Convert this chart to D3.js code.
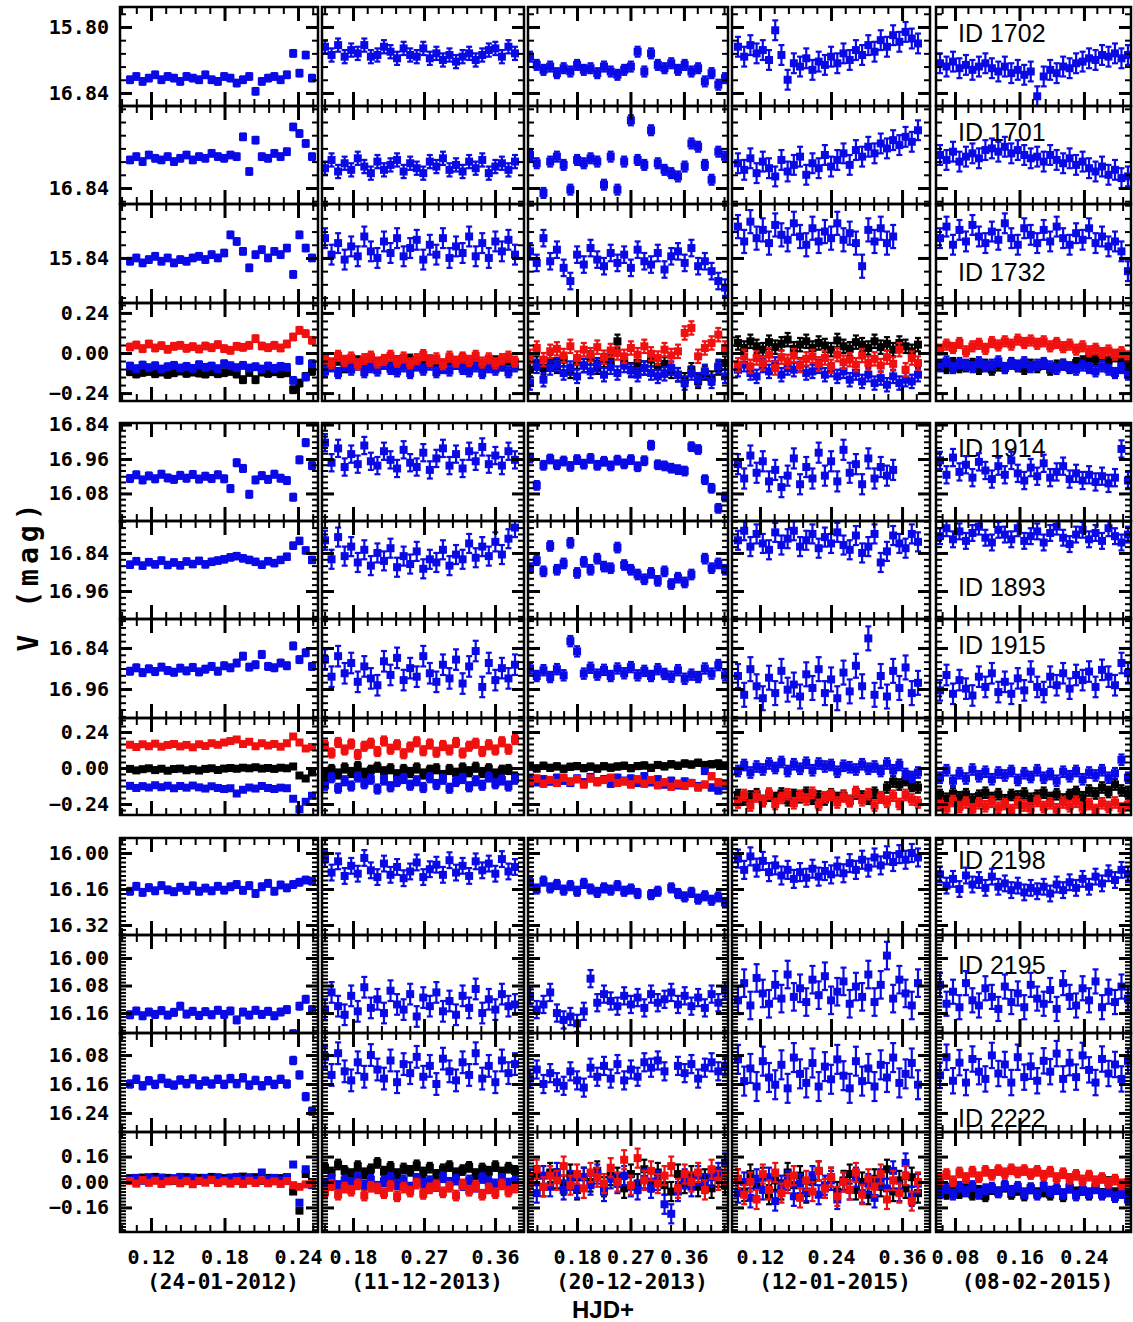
<!DOCTYPE html>
<html>
<head>
<meta charset="utf-8">
<script src="https://cdn.jsdelivr.net/npm/d3@7"></script>
<style>
  body { margin: 0; background: #fff; }
  .tick text { font-family: "DejaVu Sans Mono", monospace; font-weight: bold; font-size: 20px; fill: #000; }
</style>
</head>
<body>
<svg id="chart" width="1133" height="1322"></svg>
<script>
// ---------- data ----------
const N = 30; // readings per night kept for each curve
const dates = ["(24-01-2012)", "(11-12-2013)", "(20-12-2013)", "(12-01-2015)", "(08-02-2015)"];
const colT0 = [0.1029, 0.1445, 0.1009, 0.0828, 0.0614];
const colT1 = [0.2514, 0.3853, 0.4292, 0.3869, 0.2946];
const xDomains = [[0.0947, 0.2563], [0.1407, 0.3967], [0.0975, 0.4342], [0.0727, 0.4072], [0.0564, 0.2984]];
const xLabelTicks = [[0.12, 0.18, 0.24], [0.18, 0.27, 0.36], [0.18, 0.27, 0.36], [0.12, 0.24, 0.36], [0.08, 0.16, 0.24]];
const xMinorStep = [0.012, 0.018, 0.0225, 0.024, 0.016];

const stars = [[1702, 1701, 1732], [1914, 1893, 1915], [2198, 2195, 2222]];

// y ranges per row (value at top edge, value at bottom edge)
const yDomG1 = [[15.7879, 15.8479], [15.7903, 15.8497], [15.8073, 15.8673], [0.2994, -0.2874]];
const yDomG2 = [[15.8346, 16.176], [15.7392, 16.0483], [15.7553, 16.0448], [0.3333, -0.3133]];
const yDomG3 = [[15.9333, 16.3644], [15.9331, 16.218], [16.0191, 16.2926], [0.3145, -0.3145]];
const yTicksG1 = [[15.80, 15.84], [15.84], [15.84], [0.24, 0, -0.24]];
const yTicksG2 = [[15.84, 15.96, 16.08], [15.84, 15.96], [15.84, 15.96], [0.24, 0, -0.24]];
const yTicksG3 = [[16.00, 16.16, 16.32], [16.00, 16.08, 16.16], [16.08, 16.16, 16.24], [0.16, 0, -0.16]];
const yTextG1 = [["15.80", "16.84"], ["16.84"], ["15.84"], ["0.24", "0.00", "\u22120.24"]];
const yTextG2 = [["16.84", "16.96", "16.08"], ["16.84", "16.96"], ["16.84", "16.96"], ["0.24", "0.00", "\u22120.24"]];
const yTextG3 = [["16.00", "16.16", "16.32"], ["16.00", "16.08", "16.16"], ["16.08", "16.16", "16.24"], ["0.16", "0.00", "\u22120.16"]];
const yMinorG1 = [0.008, 0.008, 0.008, 0.048];
const yMinorG2 = [0.02, 0.02, 0.02, 0.04];
const yMinorG3 = [0.02, 0.01, 0.01, 0.02];

// light curves: base (mag) per night, error (mmag), offsets from base (mmag)
const base1702 = [15.831, 15.815, 15.825, 15.820, 15.822];
const err1702 = [2, 4, 3, 6, 6];
const off1702 = [
  [1,-1,2,0,-2,1,-1,0,2,-1,0,1,-2,1,2,-1,0,3,1,-1,8,2,0,-1,1,-2,-15,-3,-14,0],
  [-3,2,-4,3,-1,1,-4,3,2,-3,0,4,-2,2,3,-2,4,1,5,2,6,3,1,5,2,-1,-2,3,-3,1],
  [-7,-2,1,-1,3,0,2,-2,1,0,3,-1,2,4,1,-1,-10,2,-9,-2,0,-3,1,-2,2,0,8,3,10,6],
  [-8,-2,-9,-4,-6,0,-18,-3,12,2,4,-1,6,1,3,-2,2,-4,0,-6,-3,-9,-5,-12,-8,-15,-11,-17,-13,-10],
  [0,2,-1,3,1,4,2,0,3,5,2,6,4,7,5,20,8,4,6,2,3,0,-1,-3,-2,-5,-4,-6,-3,-5]
];
const base1701 = [15.821, 15.826, 15.823, 15.825, 15.820];
const err1701 = [2, 4, 3, 6, 6];
const off1701 = [
  [2,0,3,-1,1,2,0,3,1,-1,2,0,1,-2,0,1,-1,0,-12,9,-10,0,1,-2,0,-3,-18,-14,-8,0],
  [2,-3,4,-1,3,-4,1,5,-2,3,0,-3,4,-1,2,5,-2,1,-4,3,0,4,-2,2,-3,5,1,-1,3,-2],
  [-3,2,20,1,-2,3,18,0,2,-1,1,15,-2,18,1,-24,0,3,-18,2,6,8,10,4,-10,-8,3,12,-5,-2],
  [0,4,-3,6,-1,3,8,-2,5,1,-4,7,0,3,-5,2,-2,-6,1,-8,-4,-10,-6,-12,-9,-14,-11,-16,-13,-20],
  [0,3,-2,4,1,-1,2,-3,-4,-2,-5,-1,-3,0,2,1,4,0,3,5,2,6,4,8,10,7,12,9,14,13]
];
const base1732 = [15.840, 15.834, 15.840, 15.825, 15.826];
const err1732 = [2, 6, 5, 7, 6];
const off1732 = [
  [2,0,3,1,-1,2,0,3,1,2,0,-1,1,-2,0,-3,-14,-10,-4,6,-2,-5,0,-4,-2,-6,10,-14,-6,0],
  [-6,4,-3,7,-1,5,-7,2,6,-4,3,-6,5,0,-5,7,-2,4,-6,6,-1,3,-7,5,-3,6,-4,2,-5,4],
  [-4,3,-12,2,-5,6,14,-2,4,-6,1,5,-3,3,-2,6,-5,2,4,-3,7,-1,-4,3,-6,5,2,8,14,18],
  [-4,5,-7,3,-2,6,-5,1,4,-6,2,7,-3,5,-1,3,-6,4,0,6,20,-2,5,-3,6,2,null,null,null,null],
  [2,-5,6,-3,4,-6,1,5,-2,3,-7,2,6,-4,0,5,-3,4,-5,2,6,-1,3,-4,5,1,7,4,10,22]
];
const base1914 = [16.023, 15.953, 15.972, 15.998, 15.995];
const err1914 = [12, 30, 15, 35, 30];
const off1914 = [
  [5,-8,10,-4,6,-10,3,8,-6,4,-9,7,-3,5,-8,6,40,-50,-30,60,10,-5,8,-10,4,12,70,-60,-120,-40],
  [-50,20,-30,35,-10,25,-40,15,30,-20,10,40,-25,20,35,-15,45,5,-30,30,-10,40,-20,15,-35,25,-5,30,-20,10],
  [-15,80,10,-12,8,-5,14,-10,6,-14,10,-4,12,-8,5,-10,15,-6,-60,8,12,20,25,30,-55,-45,60,90,160,120],
  [-20,30,-50,10,-30,40,0,60,20,-40,50,-10,30,-60,20,-30,40,-70,10,-20,50,-40,30,-10,20,0,null,null,null,null],
  [-30,20,-40,10,-15,30,-25,5,35,-10,20,-30,15,40,-5,25,-20,30,10,-10,35,15,40,20,45,25,50,30,-70,40]
];
const base1893 = [15.872, 15.840, 15.878, 15.790, 15.777];
const err1893 = [10, 30, 15, 30, 25];
const off1893 = [
  [5,-6,8,-3,4,-8,6,-2,7,-5,3,-7,4,-4,-8,-12,-18,-22,-15,-10,-4,5,-6,0,-10,-20,-55,-70,-40,-10],
  [-40,20,-50,10,-20,30,-10,40,0,25,-15,45,10,35,-5,50,20,30,-10,40,5,20,-30,15,-20,10,-35,5,-45,-80],
  [10,-15,20,-60,15,-5,-70,25,-10,15,-20,5,10,-55,0,15,30,45,25,50,20,60,40,55,30,null,-20,10,-5,15],
  [10,-20,30,-10,20,40,-15,25,5,-20,30,10,-10,35,0,20,-15,25,40,-5,50,30,-10,80,45,-5,20,35,-10,15],
  [10,-15,20,-5,25,0,-20,15,30,-10,5,20,-15,25,10,-5,30,0,-20,15,35,5,-10,20,0,25,-15,10,30,5]
];
const base1915 = [15.904, 15.904, 15.910, 15.942, 15.944];
const err1915 = [10, 30, 15, 35, 30];
const off1915 = [
  [4,-6,8,-3,5,-8,2,7,-5,3,-7,6,-2,-10,4,-12,-6,-20,-40,-8,-15,-45,-10,-6,-20,-12,-70,-30,-50,-10],
  [-30,20,-40,10,-20,35,-10,25,45,-25,15,-35,30,-5,20,-40,10,35,-15,25,-30,40,-10,-55,50,-20,30,-5,25,-15],
  [-10,12,-5,15,-8,10,-90,-60,5,-12,8,-6,12,-10,4,-14,10,-3,12,-8,6,14,-5,20,8,15,-10,5,-20,10],
  [-20,35,-40,10,45,-15,30,-35,20,5,40,-25,15,-40,30,-10,45,-30,25,-50,10,-130,35,-20,40,-35,15,-45,30,0],
  [20,-25,30,-10,15,35,-20,10,-30,25,-5,30,-15,20,-35,10,25,-20,5,-30,15,-25,-10,-35,10,-40,-20,5,-60,-30]
];
const base2198 = [16.160, 16.067, 16.150, 16.055, 16.125];
const err2198 = [15, 35, 20, 40, 35];
const off2198 = [
  [10,-12,15,-6,8,-15,4,12,-8,6,-14,10,-4,8,-12,5,-10,-20,6,-15,20,-10,-25,10,-18,-5,-20,-30,-40,-35],
  [-40,20,-30,35,-10,25,-45,10,40,-20,30,-5,45,15,-25,40,5,-15,30,-35,20,-10,35,-30,10,-20,25,-40,15,-5],
  [-20,10,-25,5,-10,15,-5,20,-15,10,25,5,15,-5,20,10,30,null,35,20,null,5,30,45,25,55,40,60,45,70],
  [-30,20,-40,10,-20,30,0,45,20,60,30,55,15,50,25,40,5,35,-10,20,-25,10,-35,0,-45,-15,-50,-25,-55,-35],
  [-30,20,-10,35,-25,15,-5,30,-20,25,10,40,20,50,30,45,25,55,15,40,5,30,-10,25,-20,10,-35,-5,-50,-30]
];
const base2195 = [16.160, 16.130, 16.120, 16.093, 16.108];
const err2195 = [10, 30, 25, 40, 35];
const off2195 = [
  [5,-6,8,-3,4,-7,6,-2,-20,3,-5,7,-4,5,-8,4,-6,20,-3,6,-8,4,-5,8,-3,-10,60,-20,-40,-10],
  [20,-30,10,35,-20,25,-45,15,-10,30,-35,5,20,-25,40,-15,10,-30,25,-5,35,-20,15,-40,30,-10,20,-25,10,5],
  [-10,30,15,-20,40,60,50,70,35,-60,10,-15,5,20,-10,15,-5,25,-15,10,0,-20,15,-10,20,-5,25,-15,10,-25],
  [30,-20,45,-35,10,40,-15,25,-45,20,-5,35,-30,15,-40,30,5,-25,40,-10,20,-45,35,-15,-100,25,-30,10,45,-20],
  [-30,25,-10,35,-35,15,30,-20,5,40,-25,20,-5,35,-30,10,25,-15,40,-35,5,30,-20,15,-40,35,-10,20,-25,10]
];
const base2222 = [16.155, 16.115, 16.135, 16.127, 16.116];
const err2222 = [10, 30, 25, 40, 35];
const off2222 = [
  [5,-8,10,-4,6,-10,3,8,-6,4,-9,7,-3,5,-8,6,-10,4,-12,8,-5,10,-4,6,-8,5,-60,-20,40,80],
  [-30,20,-40,10,35,-15,25,-35,5,30,-20,40,-10,15,-30,25,-5,45,-25,10,35,-15,20,-40,30,-5,40,-20,15,-10],
  [10,-15,25,-5,20,30,-10,15,35,-20,5,-25,10,-30,15,-15,5,-35,-20,-40,-10,null,-25,-5,-30,10,-20,-35,-10,-25],
  [-35,25,-10,40,-30,15,35,-20,45,-40,5,30,-25,40,-15,20,-35,10,45,-30,25,-10,40,-20,15,-40,30,5,-25,35],
  [20,-30,35,-15,40,-25,10,30,-35,15,-10,40,-30,25,-5,35,-20,10,-40,30,-15,25,-35,5,40,-25,15,-10,30,-20]
];

// differential curves (mag) : base per night, offsets in mmag
const blackBase1 = [-0.12, -0.06, -0.07, 0.04, -0.08];
const black1 = [
  [8,-6,4,10,-4,6,-8,2,12,-2,6,0,-6,8,-4,2,10,-6,-40,4,-40,6,-2,8,-4,2,-100,-60,-20,10],
  [15,-10,20,-25,5,10,-15,25,-5,15,-20,10,0,20,-10,-25,15,5,-15,20,-5,25,-10,15,-20,0,10,-15,20,-5],
  [-30,10,-20,20,-10,30,-40,15,-5,40,-15,25,20,140,20,-30,10,-20,30,-15,5,-40,-60,-90,-30,-100,-50,-80,-20,10],
  [20,-10,30,0,-20,25,-5,15,40,-15,10,30,-10,20,5,-20,35,0,-15,25,10,-10,30,-5,15,-20,20,0,-30,10],
  [10,-10,20,-5,0,15,-15,10,-20,5,-10,20,0,-15,10,-5,15,-20,5,10,-10,20,30,50,40,70,30,60,20,10]
];
const blueBase1 = [-0.084, -0.09, -0.10, -0.08, -0.06];
const blue1 = [
  [6,-10,12,-4,8,-12,2,10,-6,4,-8,14,-2,6,-10,20,8,-4,10,-6,2,-12,6,-8,4,-2,-80,40,-60,20],
  [-20,10,-30,15,-10,20,-25,5,-15,25,-5,-20,10,-30,15,-10,20,-25,0,-15,25,-5,-20,10,-30,5,-10,20,-25,10],
  [-80,20,-60,10,30,-20,10,-40,25,-10,30,-30,15,-20,25,-5,-30,10,-20,-40,-25,10,-30,-80,-20,-60,-10,-70,20,-40],
  [-20,10,-40,-60,5,-30,15,-50,-10,-20,10,-40,-30,0,-50,-20,-60,-30,-80,-40,-90,-50,-100,-70,-110,-60,-100,-80,-90,-50],
  [-20,10,-30,0,-10,-25,5,-20,-10,10,-30,-5,-15,5,-25,-10,0,-20,-35,-10,-25,-40,-15,-30,-50,-20,-40,-60,-30,-70]
];
const redBase1 = [0.036, -0.042, 0.0, -0.04, 0.03];
const red1 = [
  [0,12,-10,18,-6,8,-14,4,10,-8,2,-12,6,-4,14,-10,-20,4,-2,10,50,6,-4,10,-6,18,60,100,80,40],
  [10,-20,25,-5,15,-25,5,20,-15,0,25,-10,15,-20,5,30,-5,10,-25,20,-10,15,-5,25,-15,10,-20,5,20,-10],
  [-20,30,-40,10,25,-15,40,-30,20,-10,35,-25,15,0,-20,30,-10,40,-5,-30,20,-15,10,120,150,-20,30,60,110,30],
  [-30,20,-40,10,-20,30,-50,15,-10,25,-35,5,20,-25,10,-40,30,-15,0,-30,25,-20,5,-35,15,-25,60,-60,10,-20],
  [-10,20,0,30,-20,10,25,-5,35,15,40,20,50,30,45,25,40,10,30,5,20,-10,10,-20,-5,-30,-15,-40,-25,-50]
];
const diffErr1 = [20, 30, 40, 40, 30];

const blackBase2 = [-0.01, -0.02, 0.005, -0.19, -0.19];
const black2 = [
  [4,-6,2,8,-4,5,-8,3,6,-5,2,-7,4,8,-3,6,10,5,12,8,15,6,10,4,12,8,20,-40,-60,-20],
  [-30,10,-20,20,-10,30,-15,5,25,-5,15,-25,10,-10,20,-20,5,15,-30,10,-15,20,-5,25,-10,15,-20,5,10,-40],
  [5,-8,10,-4,6,-10,3,8,-6,4,-9,7,-3,5,10,-6,8,12,-4,15,6,20,10,25,18,30,15,20,25,10],
  [10,-20,0,15,-30,5,-10,20,-25,10,-5,25,-15,0,-20,15,-10,5,-30,20,0,-15,25,-5,60,100,80,110,70,60],
  [10,-15,20,-5,15,-20,5,25,-10,15,-25,10,0,20,-15,5,25,-10,15,-20,10,30,-5,40,20,60,30,80,40,20]
];
const blueBase2 = [-0.125, -0.095, -0.08, 0.0, -0.045];
const blue2 = [
  [6,-8,4,-5,10,-3,7,-10,5,-6,8,-4,-12,3,-8,-15,-10,-45,-20,-5,-12,5,-8,-15,-6,-10,-80,-150,-100,-60],
  [-20,30,-40,10,-25,35,-10,20,-45,15,-30,5,25,-20,10,-35,30,-15,20,-40,5,25,-30,10,-20,35,-10,15,-25,20],
  [10,-15,5,-10,15,-5,-20,10,-15,20,-10,5,-25,15,-5,10,-20,25,-15,5,-30,-5,-35,-10,-20,-40,60,-50,-70,-40],
  [-20,20,-30,10,-10,30,0,40,-20,25,-5,35,-15,30,10,20,-25,15,5,-10,25,-5,10,-20,30,-15,20,-40,-60,-30],
  [-20,30,-40,10,-25,35,-10,20,-30,15,-5,25,-35,10,-15,30,-20,5,-40,20,-10,25,-30,15,-5,30,-20,10,100,-20]
];
const redBase2 = [0.15, 0.13, -0.085, -0.20, -0.25];
const red2 = [
  [5,-10,8,-5,12,-8,3,10,-6,4,-12,8,-3,15,5,20,30,40,10,25,-5,15,0,10,-8,15,60,20,-20,-10],
  [20,-30,40,-10,30,-40,15,35,-20,50,-5,25,-35,10,45,-15,30,-25,20,-10,40,-30,15,35,-20,25,-10,45,-5,60],
  [-10,15,-20,5,-15,20,-5,10,-25,15,-10,5,20,-15,-5,-25,10,-20,5,-30,-10,-40,-20,-35,-15,-45,-25,30,-10,-20],
  [-30,20,-50,10,-20,30,-40,0,25,-35,15,-10,35,-45,5,20,-30,10,-20,40,-15,25,-50,5,-25,15,-40,20,-10,-30],
  [10,-20,30,-10,20,-25,15,-5,25,-15,10,-30,20,0,-20,30,-10,15,-25,20,-5,25,-15,10,-30,15,-10,20,-20,5]
];
const diffErr2 = [15, 30, 20, 35, 35];

const blackBase3 = [0.02, 0.07, 0.01, -0.01, -0.06];
const black3 = [
  [4,-10,8,-6,12,-4,6,-12,2,10,-8,6,-4,12,-10,4,8,-6,14,-2,10,-12,6,-8,4,10,-80,-200,30,-20],
  [20,-10,40,0,-20,30,-15,10,50,-5,25,-20,15,0,35,-10,20,-25,10,30,-15,5,25,-20,15,-5,30,-10,20,0],
  [-20,30,-40,50,10,-30,40,-60,20,-10,60,-40,30,20,-50,40,-20,70,-10,50,-30,-70,40,-20,30,-40,10,-50,20,-30],
  [30,-50,60,-20,40,-70,20,-40,70,-10,50,-60,10,80,-30,40,-50,20,60,-40,10,-70,30,-20,90,-50,20,-30,40,-60],
  [10,-15,20,-10,25,-20,5,-30,15,-5,30,-15,10,-25,20,-10,0,-20,15,-30,25,-5,10,-20,30,-15,60,-10,20,-25]
];
const blueBase3 = [0.02, 0.0, 0.0, -0.03, -0.05];
const blue3 = [
  [-8,6,-12,10,-4,8,-10,4,12,-6,8,-14,6,-2,10,-8,4,12,-6,10,-8,40,-4,6,-10,8,90,-150,60,-40],
  [-10,20,-25,10,-5,30,-20,15,-30,5,25,-15,10,-35,20,-10,5,-25,30,-5,15,-20,10,-30,25,0,-15,20,-10,5],
  [20,-70,40,-30,60,-50,10,-40,30,-20,50,-60,20,-10,40,-30,-50,20,-40,10,-140,-200,-60,20,-30,40,-10,30,60,120],
  [-40,30,-70,50,-20,60,-90,10,40,-60,20,-30,70,-50,10,40,-80,30,-20,60,-40,20,-70,50,-10,100,-30,150,-60,20],
  [-20,10,-30,20,-10,25,-25,5,15,-15,30,-5,20,-20,10,-30,25,-10,5,-25,15,-35,0,-20,10,-30,-10,-45,-20,-60]
];
const redBase3 = [0.0, -0.045, 0.02, -0.02, 0.035];
const red3 = [
  [6,-10,12,-5,8,-12,4,10,-8,5,-14,8,-4,12,-6,4,-10,6,-12,8,-6,10,-8,4,-12,6,-20,-30,-15,-10],
  [-20,25,-35,10,-10,30,-40,15,5,-25,20,-45,10,-15,35,-30,5,25,-20,15,-40,30,-10,20,-35,5,-25,30,-15,10],
  [-30,60,-50,20,-10,80,-40,30,-60,40,10,-30,70,-20,120,-40,130,-10,50,-30,20,80,-60,30,-20,40,-70,60,-10,20],
  [40,-60,20,-90,70,-30,80,-50,10,60,-80,30,-40,90,-20,50,-70,20,-30,80,-60,40,-10,70,-90,30,-50,60,-100,20],
  [-20,15,-30,25,-10,30,-5,35,10,40,20,45,25,40,15,35,5,30,-10,20,-15,10,-25,5,-30,-10,-40,-20,-50,-35]
];
const diffErr3 = [15, 30, 60, 60, 30];

// ---------- layout ----------
const colX = [[120, 318], [322, 524], [528, 728], [732, 930], [936, 1131]];
const groupY = [[7, 106, 204, 303, 401], [423, 521, 619, 718, 815], [838, 935, 1033, 1132, 1232]];
const idBaseline = [[35, 35, 77], [34, 75, 35], [31, 39, 94]];
const BLUE = "#0a0ae6", RED = "#f01010", BLACK = "#000";
const MARK = 8;

const curves = {
  1702: [base1702, err1702, off1702], 1701: [base1701, err1701, off1701], 1732: [base1732, err1732, off1732],
  1914: [base1914, err1914, off1914], 1893: [base1893, err1893, off1893], 1915: [base1915, err1915, off1915],
  2198: [base2198, err2198, off2198], 2195: [base2195, err2195, off2195], 2222: [base2222, err2222, off2222]
};
const diffs = [
  { black: [blackBase1, black1], blue: [blueBase1, blue1], red: [redBase1, red1], err: diffErr1 },
  { black: [blackBase2, black2], blue: [blueBase2, blue2], red: [redBase2, red2], err: diffErr2 },
  { black: [blackBase3, black3], blue: [blueBase3, blue3], red: [redBase3, red3], err: diffErr3 }
];
const yDoms = [yDomG1, yDomG2, yDomG3];
const yTicks = [yTicksG1, yTicksG2, yTicksG3];
const yTexts = [yTextG1, yTextG2, yTextG3];
const yMinors = [yMinorG1, yMinorG2, yMinorG3];

const svg = d3.select("#chart");
const defs = svg.append("defs");

function stepValues(domain, step) {
  const lo = Math.min(domain[0], domain[1]), hi = Math.max(domain[0], domain[1]);
  const k0 = Math.ceil(lo / step - 1e-6), k1 = Math.floor(hi / step + 1e-6);
  return d3.range(k0, k1 + 1).map(k => +(k * step).toFixed(6));
}

function drawSeries(g, x, y, times, base, off, err, color) {
  const pts = off.map((o, i) => ({ t: times[i], v: o == null ? null : base + o / 1000 }))
    .filter(d => d.v != null);
  const e = err / 1000;
  const h = MARK / 2;
  g.selectAll(null).data(pts).join("line")
    .attr("x1", d => x(d.t)).attr("x2", d => x(d.t))
    .attr("y1", d => y(d.v - e)).attr("y2", d => y(d.v + e))
    .attr("stroke", color).attr("stroke-width", 2.2);
  [-e, e].forEach(s => {
    g.selectAll(null).data(pts).join("line")
      .attr("x1", d => x(d.t) - h + 1).attr("x2", d => x(d.t) + h - 1)
      .attr("y1", d => y(d.v + s)).attr("y2", d => y(d.v + s))
      .attr("stroke", color).attr("stroke-width", 2.2);
  });
  g.selectAll(null).data(pts).join("rect")
    .attr("x", d => x(d.t) - h).attr("y", d => y(d.v) - h)
    .attr("width", MARK).attr("height", MARK)
    .attr("fill", color);
}

function styleAxis(sel, w) {
  sel.select(".domain").remove();
  sel.selectAll("line").attr("stroke", "#000").attr("stroke-width", w);
}

stars.forEach((gStars, gi) => {
  const yb = groupY[gi];
  for (let r = 0; r < 4; r++) {
    const yTop = yb[r], yBot = yb[r + 1];
    const y = d3.scaleLinear().domain(yDoms[gi][r]).range([yTop, yBot]);
    const yMinor = stepValues(yDoms[gi][r], yMinors[gi][r]);
    for (let c = 0; c < 5; c++) {
      const [xl, xr] = colX[c];
      const x = d3.scaleLinear().domain(xDomains[c]).range([xl, xr]);
      const times = d3.range(N).map(i => colT0[c] + i * (colT1[c] - colT0[c]) / (N - 1));
      const clipId = `clip-${gi}-${r}-${c}`;
      defs.append("clipPath").attr("id", clipId).append("rect")
        .attr("x", xl).attr("y", yTop).attr("width", xr - xl).attr("height", yBot - yTop);
      const panel = svg.append("g");

      if (r < 3 && c === 4) {
        panel.append("text")
          .attr("x", 958).attr("y", yTop + idBaseline[gi][r])
          .attr("font-family", "Liberation Sans, Arial, sans-serif")
          .attr("font-size", 25).attr("fill", "#000")
          .text(`ID ${gStars[r]}`);
      }

      const plot = panel.append("g").attr("clip-path", `url(#${clipId})`);
      if (r < 3) {
        const [base, err, off] = curves[gStars[r]];
        drawSeries(plot, x, y, times, base[c], off[c], err[c], BLUE);
      } else {
        const d = diffs[gi];
        drawSeries(plot, x, y, times, d.black[0][c], d.black[1][c], d.err[c], BLACK);
        drawSeries(plot, x, y, times, d.blue[0][c], d.blue[1][c], d.err[c], BLUE);
        drawSeries(plot, x, y, times, d.red[0][c], d.red[1][c], d.err[c], RED);
      }

      // inward ticks on all four edges
      const xMinor = stepValues(xDomains[c], xMinorStep[c]);
      panel.append("g").attr("transform", `translate(0,${yTop})`)
        .call(d3.axisTop(x).tickValues(xMinor).tickSize(-7).tickFormat(""))
        .call(s => styleAxis(s, 2));
      panel.append("g").attr("transform", `translate(0,${yTop})`)
        .call(d3.axisTop(x).tickValues(xLabelTicks[c]).tickSize(-14).tickFormat(""))
        .call(s => styleAxis(s, 3));
      panel.append("g").attr("transform", `translate(0,${yBot})`)
        .call(d3.axisBottom(x).tickValues(xMinor).tickSize(-7).tickFormat(""))
        .call(s => styleAxis(s, 2));
      panel.append("g").attr("transform", `translate(0,${yBot})`)
        .call(d3.axisBottom(x).tickValues(xLabelTicks[c]).tickSize(-14).tickFormat(""))
        .call(s => styleAxis(s, 3));
      panel.append("g").attr("transform", `translate(${xl},0)`)
        .call(d3.axisLeft(y).tickValues(yMinor).tickSize(-6).tickFormat(""))
        .call(s => styleAxis(s, 2));
      panel.append("g").attr("transform", `translate(${xl},0)`)
        .call(d3.axisLeft(y).tickValues(yTicks[gi][r]).tickSize(-12).tickFormat(""))
        .call(s => styleAxis(s, 3));
      panel.append("g").attr("transform", `translate(${xr},0)`)
        .call(d3.axisRight(y).tickValues(yMinor).tickSize(-6).tickFormat(""))
        .call(s => styleAxis(s, 2));
      panel.append("g").attr("transform", `translate(${xr},0)`)
        .call(d3.axisRight(y).tickValues(yTicks[gi][r]).tickSize(-12).tickFormat(""))
        .call(s => styleAxis(s, 3));

      panel.append("rect")
        .attr("x", xl).attr("y", yTop).attr("width", xr - xl).attr("height", yBot - yTop)
        .attr("fill", "none").attr("stroke", "#000").attr("stroke-width", 2.5);

      // x labels under the last panel row
      if (gi === 2 && r === 3) {
        svg.append("g").attr("transform", `translate(0,${yBot})`)
          .call(d3.axisBottom(x).tickValues(xLabelTicks[c]).tickSize(0).tickPadding(18)
            .tickFormat(d3.format(".2f")))
          .call(s => s.select(".domain").remove());
        svg.append("text")
          .attr("x", (xl + xr) / 2 + 4).attr("y", 1289)
          .attr("text-anchor", "middle")
          .attr("font-family", "DejaVu Sans Mono, monospace").attr("font-weight", "bold")
          .attr("font-size", 21)
          .text(dates[c]);
      }
    }
    // y labels on the left column
    const texts = yTexts[gi][r];
    svg.append("g").attr("transform", `translate(${colX[0][0]},0)`)
      .call(d3.axisLeft(y).tickValues(yTicks[gi][r]).tickSize(0).tickPadding(11)
        .tickFormat((d, i) => texts[i]))
      .call(s => s.select(".domain").remove());
  }
});

svg.append("text")
  .attr("transform", "translate(38,575) rotate(-90)")
  .attr("text-anchor", "middle")
  .attr("font-family", "DejaVu Sans Mono, monospace").attr("font-weight", "bold")
  .attr("font-size", 28).attr("letter-spacing", 5)
  .text("V (mag)");

svg.append("text")
  .attr("x", 603).attr("y", 1318)
  .attr("text-anchor", "middle")
  .attr("font-family", "Liberation Sans, Arial, sans-serif").attr("font-weight", "bold")
  .attr("font-size", 24)
  .text("HJD+");
</script>
</body>
</html>
